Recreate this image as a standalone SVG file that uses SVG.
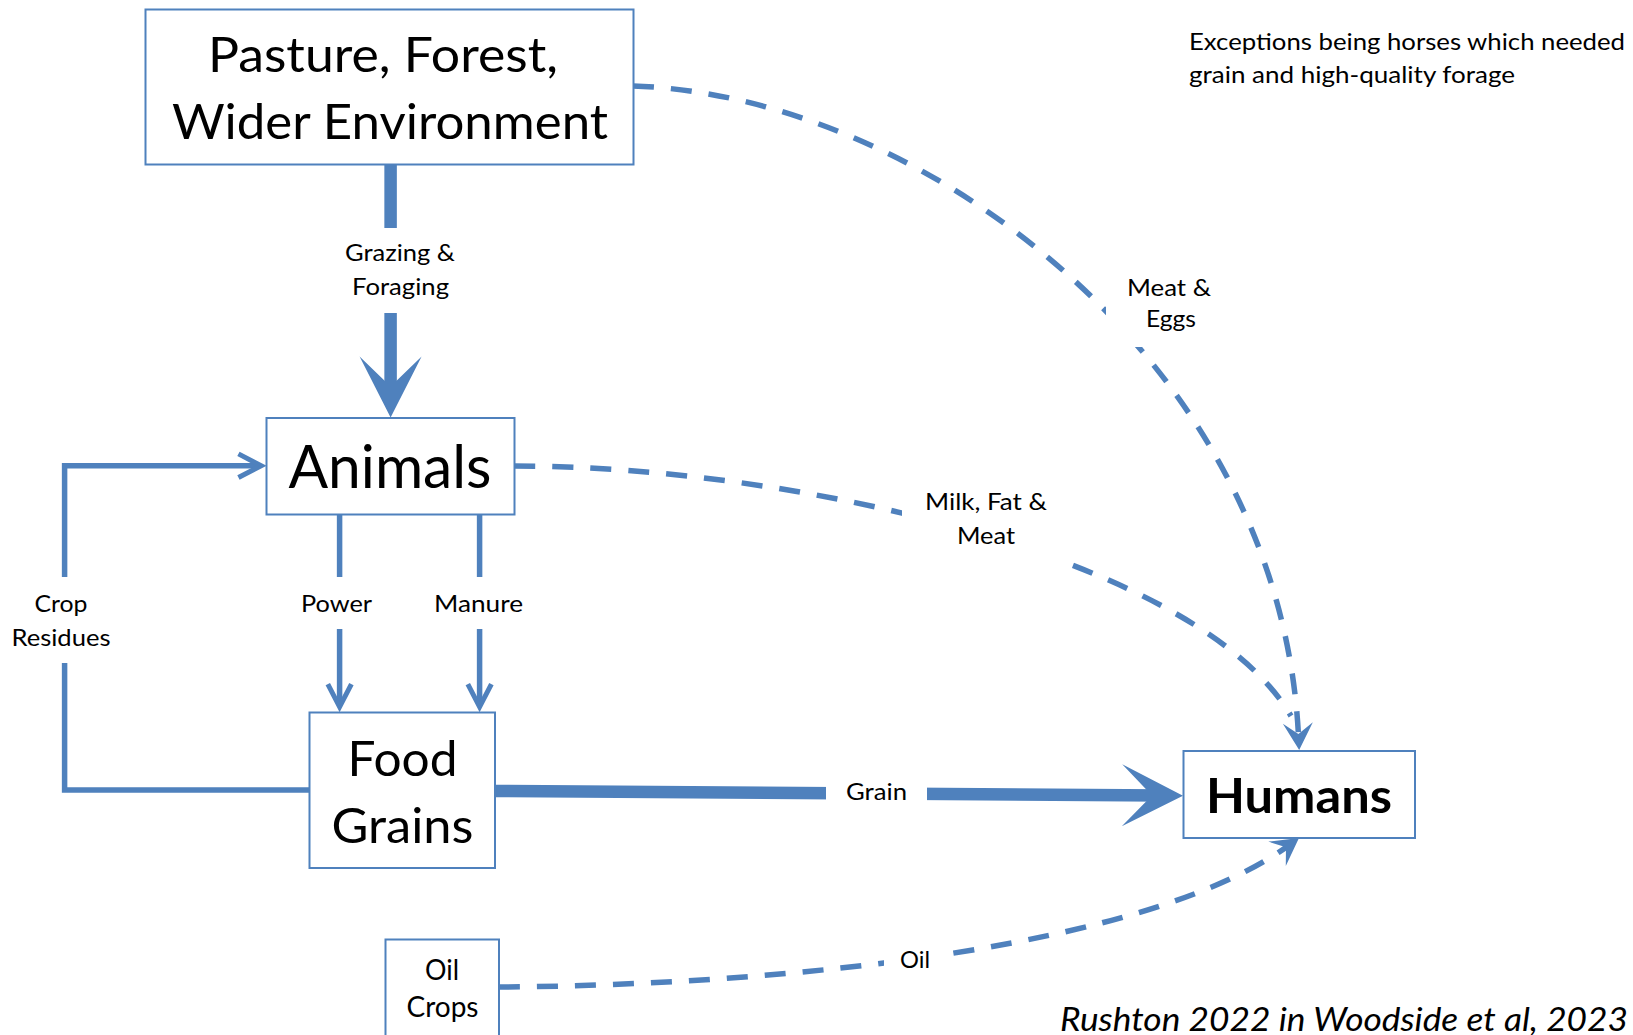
<svg xmlns="http://www.w3.org/2000/svg" width="1633" height="1035" viewBox="0 0 1633 1035">
<style>
  .box{fill:#fff;stroke:#4F81BD;stroke-width:2}
  .t{font-family:Lato,"Open Sans",sans-serif;fill:#000;text-anchor:middle}
  .lbl{font-size:23px}
  .bg{fill:#fff;stroke:none}
  .thin{fill:none;stroke:#4F81BD;stroke-width:5.5}
  .thick{fill:none;stroke:#4F81BD;stroke-width:12.5}
  .dash{fill:none;stroke:#4F81BD;stroke-width:5.5;stroke-dasharray:21 17}
</style>
<defs>
  <marker id="big" markerUnits="userSpaceOnUse" orient="auto" refX="-20" refY="0" viewBox="-62 -32 64 64" markerWidth="64" markerHeight="64" overflow="visible">
    <polygon points="0,0 -61,-31 -31,0 -61,31" fill="#4F81BD"/>
  </marker>
  <marker id="chev" markerUnits="userSpaceOnUse" orient="auto" refX="-8" refY="0" viewBox="-31 -16 32 32" markerWidth="32" markerHeight="32" overflow="visible">
    <polygon points="0,0 -27,-14 -29.3,-9.6 -10.9,0 -29.3,9.6 -27,14" fill="#4F81BD"/>
  </marker>
  <marker id="dh" markerUnits="userSpaceOnUse" orient="auto" refX="-14" refY="0" viewBox="-28 -16 30 32" markerWidth="30" markerHeight="32" overflow="visible">
    <polygon points="0,0 -27,-15 -16,0 -27,15" fill="#4F81BD"/>
  </marker>
</defs>
<rect width="1633" height="1035" fill="#fff"/>

<g id="connectors">
  <path class="thick" d="M390.6,165 V397.6" marker-end="url(#big)"/>
  <path class="thick" d="M495,791 L1163,795.6" marker-end="url(#big)"/>
  <path class="thin" d="M309.5,790 H64.6 V465.7 H258.6" marker-end="url(#chev)"/>
  <path class="thin" d="M339.6,515 V704.3" marker-end="url(#chev)"/>
  <path class="thin" d="M479.6,515 V704.3" marker-end="url(#chev)"/>
  <path class="dash" d="M633,86 C920,95 1280,360 1298.5,736" marker-end="url(#dh)"/>
  <path class="dash" d="M514.5,466 C800,466 1200,560 1291,716"/>
  <path class="dash" d="M499,987 C800,985 1150,945 1287.6,846.2" marker-end="url(#dh)"/>
</g>

<g id="label-grazing">
  <rect class="bg" x="340" y="228" width="120" height="85"/>
  <text class="t lbl" x="400" y="261" textLength="110" lengthAdjust="spacingAndGlyphs">Grazing &amp;</text>
  <text class="t lbl" x="400.5" y="295" textLength="97" lengthAdjust="spacingAndGlyphs">Foraging</text>
</g>
<g id="label-crop">
  <rect class="bg" x="5" y="577" width="113" height="86"/>
  <text class="t lbl" x="61" y="612" textLength="53" lengthAdjust="spacingAndGlyphs">Crop</text>
  <text class="t lbl" x="61" y="646" textLength="99" lengthAdjust="spacingAndGlyphs">Residues</text>
</g>
<g id="label-power">
  <rect class="bg" x="295" y="577" width="85" height="52"/>
  <text class="t lbl" x="336.5" y="612" textLength="71" lengthAdjust="spacingAndGlyphs">Power</text>
</g>
<g id="label-manure">
  <rect class="bg" x="430" y="577" width="98" height="52"/>
  <text class="t lbl" x="478.5" y="612" textLength="89" lengthAdjust="spacingAndGlyphs">Manure</text>
</g>
<g id="label-grain">
  <rect class="bg" x="826" y="775" width="101" height="33"/>
  <text class="t lbl" x="876.5" y="800" textLength="61" lengthAdjust="spacingAndGlyphs">Grain</text>
</g>
<g id="label-meat-eggs">
  <rect class="bg" x="1106" y="262" width="126" height="85"/>
  <text class="t lbl" x="1169" y="296" textLength="84" lengthAdjust="spacingAndGlyphs">Meat &amp;</text>
  <text class="t lbl" x="1171" y="327" textLength="50" lengthAdjust="spacingAndGlyphs">Eggs</text>
</g>
<g id="label-milk">
  <rect class="bg" x="902" y="476" width="162" height="90"/>
  <text class="t lbl" x="986" y="510" textLength="122" lengthAdjust="spacingAndGlyphs">Milk, Fat &amp;</text>
  <text class="t lbl" x="986" y="544" textLength="58" lengthAdjust="spacingAndGlyphs">Meat</text>
</g>
<g id="label-oil">
  <rect class="bg" x="884" y="940" width="66" height="35"/>
  <text class="t lbl" x="915" y="968" textLength="30" lengthAdjust="spacingAndGlyphs">Oil</text>
</g>

<g id="node-pasture">
  <rect class="box" x="145.5" y="9.5" width="488" height="155"/>
  <text class="t" x="383" y="72" font-size="48" textLength="350" lengthAdjust="spacingAndGlyphs">Pasture, Forest,</text>
  <text class="t" x="390" y="138.5" font-size="48" textLength="436" lengthAdjust="spacingAndGlyphs">Wider Environment</text>
</g>
<g id="node-animals">
  <rect class="box" x="266.5" y="418" width="248" height="96.5"/>
  <text class="t" x="390" y="488" font-size="60" textLength="203" lengthAdjust="spacingAndGlyphs">Animals</text>
</g>
<g id="node-food-grains">
  <rect class="box" x="309.5" y="712.5" width="185.5" height="155.5"/>
  <text class="t" x="402.5" y="776" font-size="49" textLength="110" lengthAdjust="spacingAndGlyphs">Food</text>
  <text class="t" x="402.5" y="843" font-size="49" textLength="142" lengthAdjust="spacingAndGlyphs">Grains</text>
</g>
<g id="node-humans">
  <rect class="box" x="1183.5" y="751" width="231.5" height="87"/>
  <text class="t" x="1299" y="813" font-size="48" font-weight="bold" textLength="186" lengthAdjust="spacingAndGlyphs">Humans</text>
</g>
<g id="node-oil-crops">
  <rect class="box" x="385.5" y="939.5" width="113.5" height="110"/>
  <text class="t" x="442" y="980" font-size="28" textLength="34" lengthAdjust="spacingAndGlyphs">Oil</text>
  <text class="t" x="442.5" y="1017" font-size="28" textLength="72" lengthAdjust="spacingAndGlyphs">Crops</text>
</g>

<g id="note">
  <text class="t lbl" x="1189" y="50" style="text-anchor:start" textLength="436" lengthAdjust="spacingAndGlyphs">Exceptions being horses which needed</text>
  <text class="t lbl" x="1189" y="83" style="text-anchor:start" textLength="326" lengthAdjust="spacingAndGlyphs">grain and high-quality forage</text>
</g>
<g id="citation">
  <text class="t" x="1060" y="1031" font-size="32" font-style="italic" style="text-anchor:start" textLength="568" lengthAdjust="spacingAndGlyphs">Rushton 2022 in Woodside et al, 2023</text>
</g>
</svg>
